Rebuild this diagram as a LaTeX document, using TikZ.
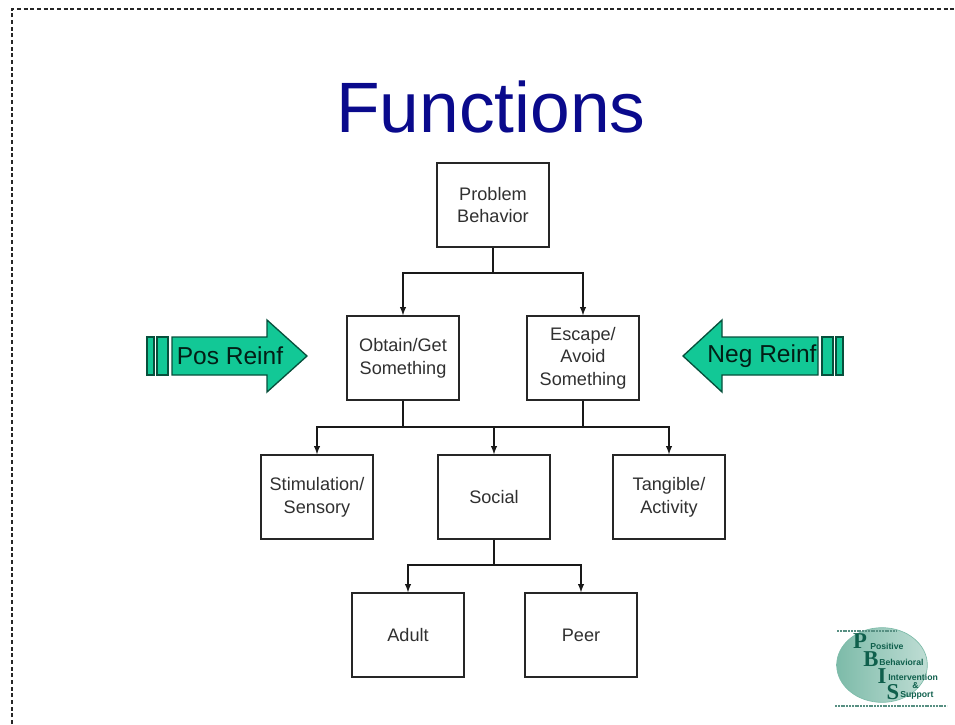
\documentclass[tikz,border=0pt]{standalone}
\usepackage{fontspec}
\setmainfont{Liberation Sans}
\newfontfamily\logoserif{Liberation Serif}
\usetikzlibrary{arrows}
\usetikzlibrary{shapes}
\definecolor{reinfgreen}{HTML}{12C896}
\definecolor{logogreen}{HTML}{7DBBA9}
\definecolor{logolight}{HTML}{BFDDD4}
\definecolor{logodark}{HTML}{0F5F4C}
\definecolor{titleblue}{HTML}{0A0A8C}
\definecolor{boxtext}{HTML}{303030}
\begin{document}
\begin{tikzpicture}[x=0.75pt,y=-0.75pt]
	\tikzstyle{funcbox}=[rectangle,draw=black!85,line width=1.1pt,minimum width=84pt,minimum height=63pt,inner sep=0pt,align=center,text=boxtext,font=\fontsize{13.6}{17}\selectfont]
	\tikzstyle{link}=[draw=black!90,line width=1.1pt,->,>=latex]
	\tikzstyle{bus}=[draw=black!90,line width=1.1pt]
	\tikzstyle{reinf}=[draw=black!60!reinfgreen,line width=1pt,fill=reinfgreen]
	\tikzstyle{reinflabel}=[inner sep=0pt,text=black!85!reinfgreen,font=\fontsize{18.4}{20}\selectfont]
	\tikzstyle{logotext}=[inner sep=0pt,text=logodark,font=\fontsize{6.5}{7}\selectfont\bfseries,anchor=west]
	\tikzstyle{logoletter}=[inner sep=0pt,text=logodark,font=\fontsize{17}{18}\selectfont\logoserif\bfseries]

	\useasboundingbox (0,0) rectangle (955,724);

	% page frame
	\coordinate (framebl) at (12,724);
	\coordinate (frametl) at (12,9);
	\coordinate (frametr) at (955,9);
	\draw[black!85,line width=0.9pt,dash pattern=on 3pt off 2pt] (framebl) -- (frametl) -- (frametr);

	\node[inner sep=0pt,text=titleblue,font=\fontsize{53.5}{60}\selectfont] (title) at (491,107) {Functions};

	\node[funcbox] (problem) at (493,205) {Problem\\Behavior};
	\node[funcbox] (obtain) at (403,358) {Obtain/Get\\Something};
	\node[funcbox] (escape) at (583,358) {Escape/\\Avoid\\Something};
	\node[funcbox] (stim) at (317,497) {Stimulation/\\Sensory};
	\node[funcbox] (social) at (494,497) {Social};
	\node[funcbox] (tangible) at (669,497) {Tangible/\\Activity};
	\node[funcbox] (adult) at (408,635) {Adult};
	\node[funcbox] (peer) at (581,635) {Peer};

	% tree links
	\coordinate (split1) at (493,273);
	\coordinate (split2) at (403,427);
	\coordinate (split2b) at (583,427);
	\coordinate (split3) at (494,565);
	\draw[bus] (problem.south) -- (split1);
	\draw[link] (split1) -| (obtain.north);
	\draw[link] (split1) -| (escape.north);
	\draw[bus] (obtain.south) -- (split2);
	\draw[bus] (escape.south) -- (split2b);
	\draw[bus] (split2) -- (split2b);
	\draw[link] (split2) -| (stim.north);
	\draw[link] (split2) -| (social.north);
	\draw[link] (split2b) -| (tangible.north);
	\draw[bus] (social.south) -- (split3);
	\draw[link] (split3) -| (adult.north);
	\draw[link] (split3) -| (peer.north);

	% side arrows
	\draw[reinf] (147,337) rectangle (154,375);
	\draw[reinf] (157,337) rectangle (168,375);
	\draw[reinf] (172,337) -- (267,337) -- (267,320) -- (307,356) -- (267,392) -- (267,375) -- (172,375) -- cycle;
	\node[reinflabel] (posreinf) at (230,356) {Pos Reinf};

	\draw[reinf] (836,337) rectangle (843,375);
	\draw[reinf] (822,337) rectangle (833,375);
	\draw[reinf] (818,337) -- (722,337) -- (722,320) -- (683,356) -- (722,392) -- (722,375) -- (818,375) -- cycle;
	\node[reinflabel] (negreinf) at (762,356) {Neg Reinf};

	% logo
	\node[ellipse,left color=logogreen,right color=logolight,draw=logogreen,line width=0.5pt,minimum width=68pt,minimum height=56pt,inner sep=0pt] (logo) at (882,665) {};
	\draw[logodark!70,line width=1.2pt,dash pattern=on 1.5pt off 0.6pt] (837,631) -- (897,631);
	\draw[logodark!70,line width=1.1pt,dash pattern=on 1.5pt off 0.6pt] (835,706) -- (947,706);
	\node[logoletter] (letterp) at (860,641) {P};
	\node[logoletter] (letterb) at (871,659) {B};
	\node[logoletter] (letteri) at (882,676) {I};
	\node[logoletter] (letters) at (893,692) {S};
	\node[logotext] (positive) at (870,646) {Positive};
	\node[logotext] (behavioral) at (879,662) {Behavioral};
	\node[logotext] (intervention) at (888,677) {Intervention};
	\node[logotext] (andsign) at (912,686) {\&};
	\node[logotext] (support) at (900,695) {Support};
\end{tikzpicture}
\end{document}
